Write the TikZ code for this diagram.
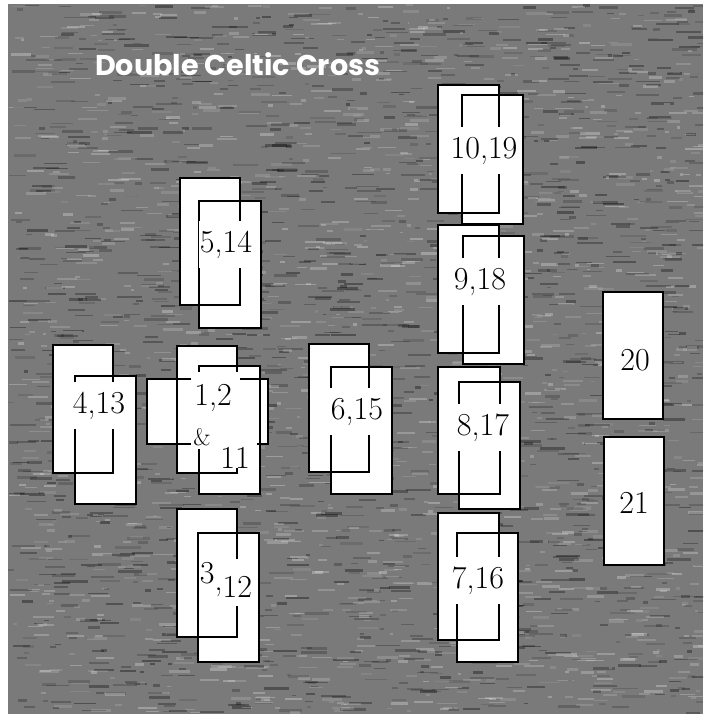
\documentclass[tikz,border=0pt]{standalone}
\usepackage{fontspec}
\newfontfamily\titlefont{Poppins}
\usetikzlibrary{fit}
\definecolor{bggray}{RGB}{122,122,122}
\tikzset{
  card/.style={draw=black, fill=white, line width=1.3pt, inner sep=0pt, outer sep=0pt},
  cardline/.style={draw=black, line width=1.3pt},
  num/.style={font=\fontsize{32}{38}\selectfont, fill=white, inner xsep=1pt, inner ysep=0pt,
              text height=31pt, text depth=16pt, anchor=base},
  plainnum/.style={font=\fontsize{32}{38}\selectfont, inner sep=0pt, anchor=base},
}
% #1 id, #2 back corner 1, #3 back corner 2, #4 front corner 1, #5 front corner 2, #6 text, #7 baseline point
\newcommand\cardpair[7]{%
  \node[card, fit={(#2)(#3)}] (#1b) {};
  \node[card, fit={(#4)(#5)}] (#1f) {};
  \draw[cardline] (#1b.north west) rectangle (#1b.south east);
  \node[num] (#1t) at (#7) {#6};
}
\begin{document}
\begin{tikzpicture}[x=1pt,y=-1pt]
\useasboundingbox (0,0) rectangle (710,720);
\fill[white] (0,0) rectangle (710,720);
\fill[bggray] (8,4) rectangle (703,714);
\begin{scope}
  \clip (8,4) rectangle (703,714);
  \pgfmathsetseed{42}
  \foreach \i in {1,...,1800}{
    \pgfmathsetmacro\xx{8+690*rnd}
    \pgfmathsetmacro\yy{4+708*rnd}
    \pgfmathsetmacro\ww{4+22*rnd}
    \pgfmathsetmacro\hh{1+2*rnd}
    \pgfmathsetmacro\oo{0.10+0.25*rnd}
    \fill[black, opacity=\oo] (\xx,\yy) rectangle ++(\ww,\hh);
  }
  \foreach \i in {1,...,1500}{
    \pgfmathsetmacro\xx{8+690*rnd}
    \pgfmathsetmacro\yy{4+708*rnd}
    \pgfmathsetmacro\ww{3+18*rnd}
    \pgfmathsetmacro\hh{1+2*rnd}
    \pgfmathsetmacro\oo{0.08+0.20*rnd}
    \fill[white, opacity=\oo] (\xx,\yy) rectangle ++(\ww,\hh);
  }
\end{scope}

% title
\node[anchor=base west, text=white, inner sep=0pt] (title) at (95,75)
  {\resizebox{285pt}{!}{\titlefont\bfseries Double Celtic Cross}};

% card pairs
\cardpair{p5}{180,178}{240,305}{199,201}{261,328}{5,14}{226,252}
\cardpair{p6}{309,344}{369,472}{331,367}{392,494}{6,15}{357,419}
\cardpair{p4}{53,345}{113,473}{75,376}{136,504}{4,13}{99,413}
\cardpair{p3}{177,509}{237,637}{198,533}{259,662}{\raisebox{7pt}{3},\raisebox{-7pt}{12}}{226,590}
\cardpair{p10}{438,85}{499,213}{462,95}{523,224}{10,19}{484,158}
\cardpair{p9}{438,225}{499,353}{463,236}{524,364}{9,18}{480,289}
\cardpair{p8}{438,367}{500,494}{459,382}{520,509}{8,17}{483,435}
\cardpair{p7}{438,513}{499,640}{457,533}{518,662}{7,16}{478,588}

% single cards
\node[card, fit={(603,292)(663,419)}] (c20) {};
\node[plainnum] (t20) at (635,370) {20};
\node[card, fit={(604,437)(664,565)}] (c21) {};
\node[plainnum] (t21) at (634,513) {21};

% centre group: 1, 2 crossing, 11
\node[card, fit={(177,346)(237,473)}] (c1) {};
\node[card, fit={(147,379)(268,444)}] (c2) {};
\node[card, fit={(199,366)(260,494)}] (c11) {};
\draw[cardline] (c1.north west) rectangle (c1.south east);
\draw[cardline] (c2.north west) rectangle (c2.south east);
\fill[white] (190.5,372) rectangle (240,449);
\fill[white] (240,381) rectangle (257,447);
\node[plainnum] (t12) at (213,405) {1,2};
\node[plainnum, font=\fontsize{24}{28}\selectfont] (tamp) at (202,445) {\&};
\node[plainnum, fill=white, inner xsep=1pt] (t11) at (235,468) {11};
\end{tikzpicture}
\end{document}
